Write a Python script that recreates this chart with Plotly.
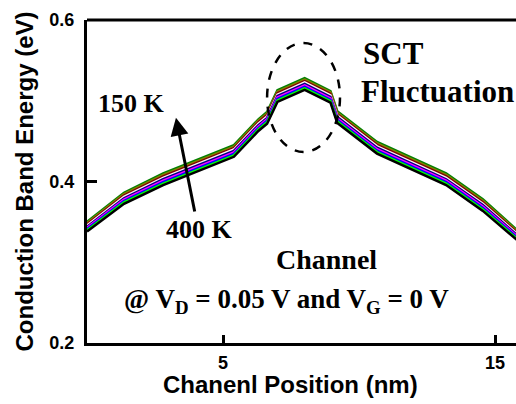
import plotly.graph_objects as go

# Channel position (nm)
position = [0, 1.36, 2.8, 5.4, 6.3, 6.62, 7.0, 8.0, 8.95, 9.2, 10.66, 13.2, 14.55, 16]

# Conduction band energy (eV), from 150 K (top) to 400 K (bottom)
temps = ["150 K", "180 K", "210 K", "240 K", "270 K", "300 K", "335 K", "370 K", "400 K"]
e_150 = [0.3500, 0.3860, 0.4100, 0.4450, 0.4770, 0.4860, 0.5130, 0.5280, 0.5120, 0.4870, 0.4490, 0.4100, 0.3780, 0.3340]
e_180 = [0.3485, 0.3843, 0.4082, 0.4432, 0.4752, 0.4842, 0.5112, 0.5262, 0.5102, 0.4852, 0.4472, 0.4082, 0.3762, 0.3325]
e_210 = [0.3470, 0.3826, 0.4064, 0.4414, 0.4734, 0.4824, 0.5094, 0.5244, 0.5084, 0.4834, 0.4454, 0.4064, 0.3744, 0.3310]
e_240 = [0.3455, 0.3809, 0.4046, 0.4396, 0.4716, 0.4806, 0.5076, 0.5226, 0.5066, 0.4816, 0.4436, 0.4046, 0.3726, 0.3295]
e_270 = [0.3440, 0.3792, 0.4028, 0.4378, 0.4698, 0.4788, 0.5058, 0.5208, 0.5048, 0.4798, 0.4418, 0.4028, 0.3708, 0.3280]
e_300 = [0.3425, 0.3775, 0.4010, 0.4360, 0.4680, 0.4770, 0.5040, 0.5190, 0.5030, 0.4780, 0.4400, 0.4010, 0.3690, 0.3265]
e_335 = [0.3410, 0.3758, 0.3992, 0.4342, 0.4662, 0.4752, 0.5022, 0.5172, 0.5012, 0.4762, 0.4382, 0.3992, 0.3672, 0.3250]
e_370 = [0.3395, 0.3741, 0.3974, 0.4324, 0.4644, 0.4734, 0.5004, 0.5154, 0.4994, 0.4744, 0.4364, 0.3974, 0.3654, 0.3235]
e_400 = [0.3380, 0.3724, 0.3956, 0.4306, 0.4626, 0.4716, 0.4986, 0.5136, 0.4976, 0.4726, 0.4346, 0.3956, 0.3636, 0.3220]
series = [e_150, e_180, e_210, e_240, e_270, e_300, e_335, e_370, e_400]
colors = ["#008000", "#808000", "#800000", "#FFF0F8", "#000080", "#FF00FF", "#0000FF", "#00FF00", "#000000"]

x_ticks = [5, 15]
y_ticks = [0.2, 0.4, 0.6]

fig = go.Figure()
for name, vals, col in zip(temps, series, colors):
    fig.add_trace(go.Scatter(x=position, y=vals, mode="lines", name=name,
                             line=dict(color=col, width=2.5), showlegend=False))

serif = "Liberation Serif"
sans = "Liberation Sans"

fig.update_layout(
    width=516, height=404,
    margin=dict(l=87, r=0, t=20, b=61),
    paper_bgcolor="white", plot_bgcolor="white",
    xaxis=dict(range=[0, 15.77], tickvals=x_ticks, ticktext=["<b>%d</b>" % v for v in x_ticks],
               ticks="inside", ticklen=8, tickwidth=3, tickcolor="black",
               showline=True, linewidth=3, linecolor="black", showgrid=False, zeroline=False,
               ticklabelstandoff=1,
               tickfont=dict(family=sans, size=18, color="black", weight="bold")),
    yaxis=dict(range=[0.2, 0.6], tickvals=y_ticks, ticktext=["<b>%.1f</b>" % v for v in y_ticks],
               ticks="inside", ticklen=10, tickwidth=3, tickcolor="black",
               showline=True, linewidth=3, linecolor="black", showgrid=False, zeroline=False,
               ticklabelstandoff=6,
               tickfont=dict(family=sans, size=18, color="black", weight="bold"),
               title=dict(text="<b>Conduction Band Energy (eV)</b>", standoff=9,
                          font=dict(family=sans, size=24, color="black"))),
    shapes=[
        dict(type="line", xref="paper", yref="paper", x0=0, x1=1, y0=1, y1=1,
             line=dict(color="black", width=3)),
        dict(type="circle", xref="x", yref="y", x0=6.62, x1=9.30, y0=0.4365, y1=0.5715,
             line=dict(color="black", width=2.5, dash="dash")),
    ],
    annotations=[
        dict(x=0.4755, y=-0.130, xref="paper", yref="paper", yanchor="middle",
             text="<b>Chanenl Position (nm)</b>", showarrow=False,
             font=dict(family=sans, size=24, color="black")),
        dict(x=3.27, y=0.479, ax=3.97, ay=0.361, xref="x", yref="y", axref="x", ayref="y",
             text="", showarrow=True, arrowhead=2, arrowsize=1.2, arrowwidth=3, arrowcolor="black"),
        dict(x=1.65, y=0.496, xref="x", yref="y", text="<b>150 K</b>", showarrow=False,
             font=dict(family=serif, size=26, color="black")),
        dict(x=4.15, y=0.340, xref="x", yref="y", text="<b>400 K</b>", showarrow=False,
             font=dict(family=serif, size=26, color="black")),
        dict(x=10.07, y=0.559, xref="x", yref="y", xanchor="left", text="<b>SCT</b>", showarrow=False,
             font=dict(family=serif, size=31, color="black")),
        dict(x=10.0, y=0.512, xref="x", yref="y", xanchor="left", text="<b>Fluctuation</b>", showarrow=False,
             font=dict(family=serif, size=31, color="black")),
        dict(x=8.79, y=0.303, xref="x", yref="y", text="<b>Channel</b>", showarrow=False,
             font=dict(family=serif, size=28, color="black")),
        dict(x=7.35, y=0.252, xref="x", yref="y",
             text="<b>@ V<sub>D</sub> = 0.05 V and V<sub>G</sub> = 0 V</b>", showarrow=False,
             font=dict(family=serif, size=27, color="black")),
    ],
)

fig.write_html("out.html")
